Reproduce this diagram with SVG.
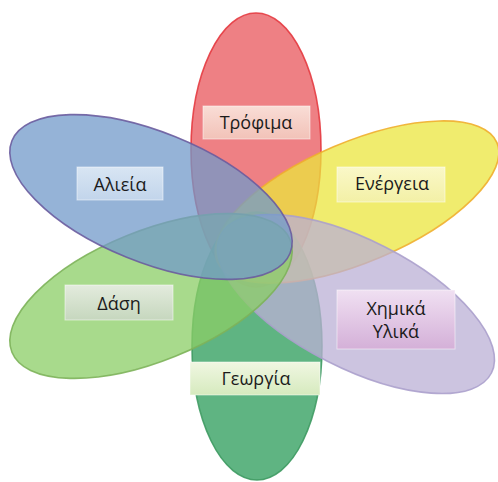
<svg xmlns="http://www.w3.org/2000/svg" width="498" height="482" viewBox="0 0 498 482">
<style>
.pet{stroke-width:1.6;fill-opacity:0.75;stroke-opacity:0.9}
.lbl{stroke:#ffffff;stroke-opacity:0.5;stroke-width:1}
.t{font-family:"Open Sans","Noto Sans","Liberation Sans",sans-serif;font-size:18px;fill:#1b1b1b;text-anchor:middle}
</style>
<defs>
<linearGradient id="gR" x1="0" y1="0" x2="0" y2="1"><stop offset="0" stop-color="#F9DDD6"/><stop offset="1" stop-color="#F2C2B8"/></linearGradient>
<linearGradient id="gB" x1="0" y1="0" x2="0" y2="1"><stop offset="0" stop-color="#D8E5F3"/><stop offset="1" stop-color="#C2D5EB"/></linearGradient>
<linearGradient id="gY" x1="0" y1="0" x2="0" y2="1"><stop offset="0" stop-color="#FAF8C8"/><stop offset="1" stop-color="#F3F0A6"/></linearGradient>
<linearGradient id="gL" x1="0" y1="0" x2="0" y2="1"><stop offset="0" stop-color="#E3EBDD"/><stop offset="1" stop-color="#C6D7BE"/></linearGradient>
<linearGradient id="gP" x1="0" y1="0" x2="0" y2="1"><stop offset="0" stop-color="#F0E0F2"/><stop offset="1" stop-color="#D4B0D8"/></linearGradient>
<linearGradient id="gG" x1="0" y1="0" x2="0" y2="1"><stop offset="0" stop-color="#F0F7E2"/><stop offset="1" stop-color="#D6EABE"/></linearGradient>
</defs>
<rect width="498" height="482" fill="#ffffff"/>
<g id="petals">
<ellipse id="p-trofima" class="pet" cx="256" cy="150" rx="65" ry="137" fill="#E8565B" stroke="#E4393F"/>
<ellipse id="p-georgia" class="pet" cx="257" cy="346" rx="65" ry="134" fill="#2A9B58" stroke="#3E9A62"/>
<ellipse id="p-energeia" class="pet" cx="357" cy="202" rx="152" ry="60" transform="rotate(-23 357 202)" fill="#EBE63E" stroke="#F0AE2E"/>
<ellipse id="p-ximika" class="pet" cx="356" cy="304" rx="152" ry="64" transform="rotate(27 356 304)" fill="#BBB0D6" stroke="#ABA0CC"/>
<ellipse id="p-dasi" class="pet" cx="151" cy="296" rx="150" ry="65" transform="rotate(-22 151 296)" fill="#8BCE66" stroke="#7DB35A"/>
<ellipse id="p-alieia" class="pet" cx="151" cy="197" rx="150" ry="65" transform="rotate(22 151 197)" fill="#7199CA" stroke="#6A5C9E"/>
</g>
<g id="n-trofima"><rect class="lbl" x="203" y="106" width="107" height="33" fill="url(#gR)"/><text class="t" x="256" y="129">Τρόφιμα</text></g>
<g id="n-alieia"><rect class="lbl" x="77" y="167" width="86" height="33" fill="url(#gB)"/><text class="t" x="120" y="191">Αλιεία</text></g>
<g id="n-energeia"><rect class="lbl" x="337" y="167" width="108" height="35" fill="url(#gY)"/><text class="t" x="392" y="190">Ενέργεια</text></g>
<g id="n-dasi"><rect class="lbl" x="65" y="285" width="108" height="35" fill="url(#gL)"/><text class="t" x="119" y="310">Δάση</text></g>
<g id="n-ximika"><rect class="lbl" x="337" y="290" width="118" height="59" fill="url(#gP)"/><text class="t" x="396" y="315">Χημικά</text><text class="t" x="396" y="338">Υλικά</text></g>
<g id="n-georgia"><rect class="lbl" x="190" y="362" width="130" height="33" fill="url(#gG)"/><text class="t" x="256" y="385">Γεωργία</text></g>
</svg>
